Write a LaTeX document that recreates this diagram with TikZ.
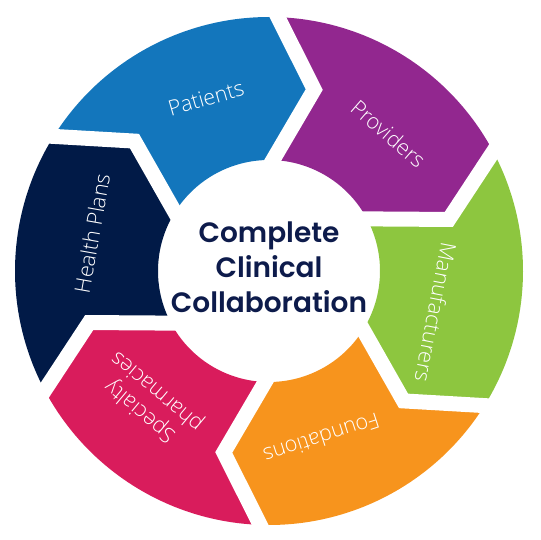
\documentclass[tikz,border=0pt]{standalone}
\usepackage{fontspec}
\setmainfont{Open Sans Light}
\newfontfamily\hubfont{Poppins SemiBold}
\usetikzlibrary{calc}
\definecolor{patientsblue}{HTML}{1376BC}
\definecolor{providerspurple}{HTML}{92278F}
\definecolor{manufgreen}{HTML}{8DC63F}
\definecolor{foundorange}{HTML}{F7941D}
\definecolor{specpink}{HTML}{D91C5C}
\definecolor{healthnavy}{HTML}{011A47}
\definecolor{hubnavy}{HTML}{0D1B4B}
\tikzset{
    whitegap/.style={white,line width=15pt,line join=miter},
    segtext/.style={text=white,font=\fontsize{21.5}{26}\selectfont,align=center,inner sep=0pt},
    hub/.style={text=hubnavy,font=\hubfont\fontsize{28}{35}\selectfont,align=center,inner sep=0pt}
}

\begin{document}
\begin{tikzpicture}[x=1pt,y=1pt]
\useasboundingbox (0,0) rectangle (541,539);
\begin{scope}[shift={(269,268)}]
    \coordinate (o1) at (88:254pt);   \coordinate (t1) at (76:187pt);   \coordinate (i1) at (88:111pt);
    \coordinate (o2) at (28:254pt);   \coordinate (t2) at (16:187pt);   \coordinate (i2) at (28:111pt);
    \coordinate (o3) at (-32:254pt);  \coordinate (t3) at (-44:187pt);  \coordinate (i3) at (-32:111pt);
    \coordinate (o4) at (-92:254pt);  \coordinate (t4) at (-104:187pt); \coordinate (i4) at (-92:111pt);
    \coordinate (o5) at (-152:254pt); \coordinate (t5) at (-164:187pt); \coordinate (i5) at (-152:111pt);
    \coordinate (o6) at (148:254pt);  \coordinate (t6) at (136:187pt);  \coordinate (i6) at (148:111pt);

    \fill[patientsblue] (o6) arc[start angle=148,end angle=88,radius=254pt] -- (t1) -- (i1)
        arc[start angle=88,end angle=148,radius=111pt] -- (t6) -- cycle;
    \fill[providerspurple] (o1) arc[start angle=88,end angle=28,radius=254pt] -- (t2) -- (i2)
        arc[start angle=28,end angle=88,radius=111pt] -- (t1) -- cycle;
    \fill[manufgreen] (o2) arc[start angle=28,end angle=-32,radius=254pt] -- (t3) -- (i3)
        arc[start angle=-32,end angle=28,radius=111pt] -- (t2) -- cycle;
    \fill[foundorange] (o3) arc[start angle=-32,end angle=-92,radius=254pt] -- (t4) -- (i4)
        arc[start angle=-92,end angle=-32,radius=111pt] -- (t3) -- cycle;
    \fill[specpink] (o4) arc[start angle=-92,end angle=-152,radius=254pt] -- (t5) -- (i5)
        arc[start angle=-152,end angle=-92,radius=111pt] -- (t4) -- cycle;
    \fill[healthnavy] (o5) arc[start angle=-152,end angle=-212,radius=254pt] -- (t6) -- (i6)
        arc[start angle=-212,end angle=-152,radius=111pt] -- (t5) -- cycle;

    \draw[whitegap] ($(t1)!1.3!(o1)$) -- (t1) -- ($(t1)!1.3!(i1)$);
    \draw[whitegap] ($(t2)!1.3!(o2)$) -- (t2) -- ($(t2)!1.3!(i2)$);
    \draw[whitegap] ($(t3)!1.3!(o3)$) -- (t3) -- ($(t3)!1.3!(i3)$);
    \draw[whitegap] ($(t4)!1.3!(o4)$) -- (t4) -- ($(t4)!1.3!(i4)$);
    \draw[whitegap] ($(t5)!1.3!(o5)$) -- (t5) -- ($(t5)!1.3!(i5)$);
    \draw[whitegap] ($(t6)!1.3!(o6)$) -- (t6) -- ($(t6)!1.3!(i6)$);

    \node[hub] (hub) at (0,4) {Complete\\Clinical\\Collaboration};

    \node[segtext,rotate=16]   (patients)      at (110:184pt)    {Patients};
    \node[segtext,rotate=-41]  (providers)     at (49:182pt)     {Providers};
    \node[segtext,rotate=-101] (manufacturers) at (-14:172pt)    {Manufacturers};
    \node[segtext,rotate=-162] (foundations)   at (-72.6:176pt)  {Foundations};
    \node[segtext,rotate=140]  (specialty)     at (-132.7:177pt) {Specialty\\pharmacies};
    \node[segtext,rotate=80]   (healthplans)   at (168:181pt)    {Health Plans};
\end{scope}
\end{tikzpicture}
\end{document}
